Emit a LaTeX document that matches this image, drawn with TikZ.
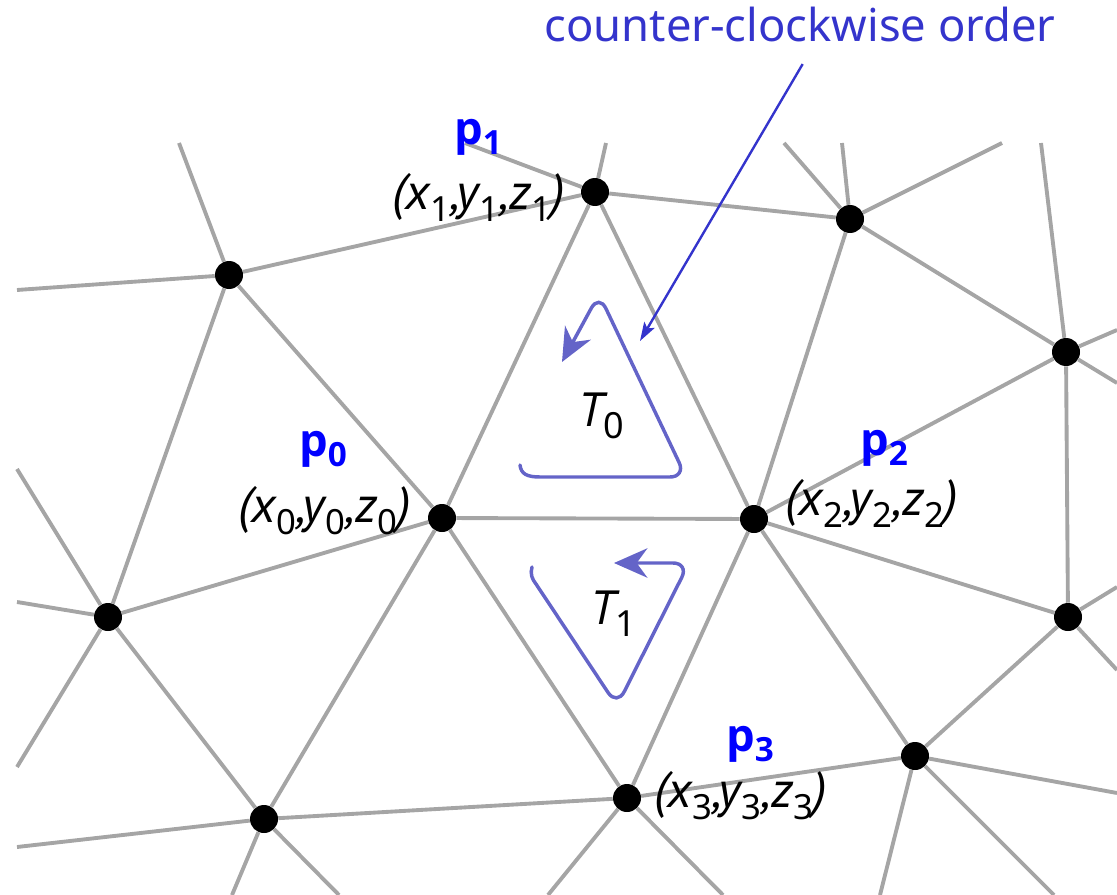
\documentclass[tikz,border=0pt]{standalone}
\usepackage{fontspec}
\setmainfont{Noto Sans}
\newfontfamily\coordfont{PT Sans}
\newfontfamily\namefont{Open Sans}
\usetikzlibrary{arrows.meta}
\definecolor{meshgray}{HTML}{A5A5A5}
\definecolor{vertexblue}{HTML}{0000FF}
\definecolor{noteblue}{HTML}{3434CC}
\definecolor{loopblue}{HTML}{6464C8}
\tikzset{
  mesh/.style={draw=meshgray, line width=2.9pt},
  vertex/.style={circle, fill=black, minimum size=21pt, inner sep=0pt},
  vname/.style={font=\namefont\bfseries\fontsize{34}{34}\selectfont,
                text=vertexblue, inner sep=0pt},
  coordlabel/.style={font=\coordfont\itshape\fontsize{38}{38}\selectfont,
                     inner sep=0pt},
  trilabel/.style={font=\coordfont\itshape\fontsize{36}{36}\selectfont,
                   inner sep=0pt},
  orient/.style={draw=loopblue, line width=2.6pt, line cap=round,
                 -{Stealth[length=25pt,width=22pt,inset=8pt]}},
  notetext/.style={font=\fontsize{34}{34}\selectfont, text=noteblue,
                   inner sep=0pt},
  pointer/.style={draw=noteblue, line width=1.8pt,
                  -{Stealth[length=14pt,width=9pt,inset=3pt]}}
}
\newcommand{\csub}[1]{\raisebox{-9pt}{\rmfamily\upshape\fontsize{26}{26}\selectfont#1}}
\newcommand{\xyz}[1]{(x\csub{#1},y\csub{#1},z\csub{#1})}
\newcommand{\pname}[1]{p\raisebox{-8pt}{\fontsize{25}{25}\selectfont#1}}
\newcommand{\tname}[1]{T\raisebox{-9pt}{\rmfamily\upshape\fontsize{27}{27}\selectfont#1}}

\begin{document}
\begin{tikzpicture}[x=0.75pt,y=-0.75pt]
  \path[use as bounding box] (0,0) rectangle (1117,895);

  % -------------------------------------------------------------------------
  % Mesh vertices.
  \node[vertex] (p0) at (442,518) {};
  \node[vertex] (p1) at (595,192) {};
  \node[vertex] (p2) at (754,519) {};
  \node[vertex] (p3) at (627,798) {};
  \node[vertex] (qa) at (229,275) {};
  \node[vertex] (qb) at (850,219) {};
  \node[vertex] (qc) at (1066,352) {};
  \node[vertex] (qd) at (108,617) {};
  \node[vertex] (qe) at (1068,617) {};
  \node[vertex] (qf) at (915,756) {};
  \node[vertex] (qg) at (264,819) {};

  % Where the mesh leaves the frame.
  \coordinate (qa-up) at (179,143);
  \coordinate (qa-left) at (17,290);
  \coordinate (p1-left) at (465,143);
  \coordinate (p1-up) at (606,143);
  \coordinate (qb-up1) at (784,143);
  \coordinate (qb-up2) at (842,143);
  \coordinate (qb-up3) at (1002,143);
  \coordinate (qc-up) at (1041,143);
  \coordinate (qc-right1) at (1117,330);
  \coordinate (qc-right2) at (1117,383);
  \coordinate (qe-right1) at (1117,587);
  \coordinate (qe-right2) at (1117,670);
  \coordinate (qf-right) at (1117,793);
  \coordinate (qf-down1) at (880,895);
  \coordinate (qf-down2) at (1054,895);
  \coordinate (p3-down1) at (548,895);
  \coordinate (p3-down2) at (723,895);
  \coordinate (qg-left) at (17,847);
  \coordinate (qg-down1) at (232,895);
  \coordinate (qg-down2) at (339,895);
  \coordinate (qd-left1) at (17,469);
  \coordinate (qd-left2) at (17,602);
  \coordinate (qd-left3) at (17,767);

  % -------------------------------------------------------------------------
  % Edges.
  \draw[mesh] (qa) -- (p1) (qa) -- (qd) (qa) -- (p0)
              (qa) -- (qa-up) (qa) -- (qa-left);
  \draw[mesh] (p1) -- (qb) (p1) -- (p0) (p1) -- (p2)
              (p1) -- (p1-left) (p1) -- (p1-up);
  \draw[mesh] (qb) -- (p2) (qb) -- (qc)
              (qb) -- (qb-up1) (qb) -- (qb-up2) (qb) -- (qb-up3);
  \draw[mesh] (qc) -- (p2) (qc) -- (qe)
              (qc) -- (qc-up) (qc) -- (qc-right1) (qc) -- (qc-right2);
  \draw[mesh] (p0) -- (p2) (p0) -- (qd) (p0) -- (qg) (p0) -- (p3);
  \draw[mesh] (p2) -- (p3) (p2) -- (qf) (p2) -- (qe);
  \draw[mesh] (qe) -- (qf) (qe) -- (qe-right1) (qe) -- (qe-right2);
  \draw[mesh] (qf) -- (p3) (qf) -- (qf-right)
              (qf) -- (qf-down1) (qf) -- (qf-down2);
  \draw[mesh] (p3) -- (qg) (p3) -- (p3-down1) (p3) -- (p3-down2);
  \draw[mesh] (qg) -- (qd) (qg) -- (qg-left)
              (qg) -- (qg-down1) (qg) -- (qg-down2);
  \draw[mesh] (qd) -- (qd-left1) (qd) -- (qd-left2) (qd) -- (qd-left3);

  % -------------------------------------------------------------------------
  % Vertex names and coordinates.
  \node[vname] (p0name) at (323,449) {\pname{0}};
  \node[vname] (p1name) at (478,137) {\pname{1}};
  \node[vname] (p2name) at (884,448) {\pname{2}};
  \node[vname] (p3name) at (750,744) {\pname{3}};
  \node[coordlabel,anchor=east] (p0xyz) at (411,511) {\xyz{0}};
  \node[coordlabel,anchor=east] (p1xyz) at (565,197) {\xyz{1}};
  \node[coordlabel,anchor=west] (p2xyz) at (785,503) {\xyz{2}};
  \node[coordlabel,anchor=west] (p3xyz) at (654,796) {\xyz{3}};

  % -------------------------------------------------------------------------
  % The two triangles and their winding.
  \node[trilabel] (t0) at (601,416) {\tname{0}};
  \node[trilabel] (t1) at (613,614) {\tname{1}};
  \draw[orient] (520,465) .. controls (521,474) and (527,477) .. (540,477)
    [rounded corners=12pt] -- (686,477) -- (599,294) -- (562,362);
  \draw[orient] (532,567) .. controls (530,574) and (532,579) .. (536,584)
    [rounded corners=12pt] -- (617,706) -- (689,563) -- (614,563);

  \node[notetext,anchor=base] (ccw) at (800,42) {counter-clockwise order};
  \coordinate (ccwaim) at (640,341);
  \draw[pointer] ([xshift=2pt,yshift=-16pt]ccw.south) -- (ccwaim);
\end{tikzpicture}
\end{document}
